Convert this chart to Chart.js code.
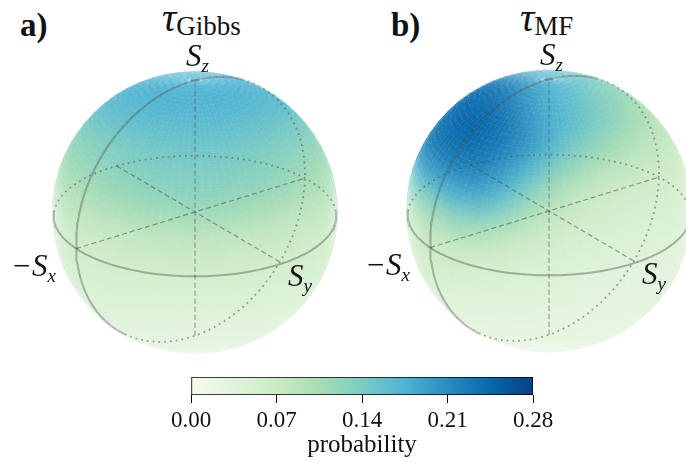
<!DOCTYPE html>
<html>
<head>
<meta charset="utf-8">
<script src="https://cdn.jsdelivr.net/npm/chart.js@4"></script>
<style>
html, body { margin: 0; padding: 0; background: #fff; }
#page { position: relative; width: 686px; height: 466px; overflow: hidden; font-family: "Liberation Serif", serif; color: #111; }
#page canvas { position: absolute; }
.disc { position: absolute; left: 0; top: 0; width: 686px; height: 466px; }
.disc canvas { filter: blur(10px); }
#discA { clip-path: ellipse(143px 141.5px at 195px 212.5px); }
#discB { clip-path: ellipse(143px 141.5px at 549px 211px); }
.lbl { position: absolute; white-space: nowrap; line-height: 1; }
.lbl i { font-size: 31px; }
.lbl sub { font-size: 19px; font-style: italic; vertical-align: baseline; position: relative; top: 6px; }
.head { font-weight: bold; font-size: 33px; }
.title i { font-size: 40px; }
.title span { font-size: 27px; position: relative; top: 4px; }
</style>
</head>
<body>
<div id="page">
  <div class="disc" id="discA"><canvas id="surfaceA" width="325" height="325" style="left:32.5px;top:50px"></canvas></div>
  <div class="disc" id="discB"><canvas id="surfaceB" width="325" height="325" style="left:386.5px;top:48.5px"></canvas></div>
  <canvas id="linesA" width="320" height="320" style="left:35px;top:52px"></canvas>
  <canvas id="linesB" width="320" height="320" style="left:389px;top:51px"></canvas>
  <canvas id="colorbar" width="686" height="96" style="left:0;top:370px"></canvas>

  <div class="lbl head" style="left:20px;top:9px">a)</div>
  <div class="lbl head" style="left:391px;top:9px">b)</div>
  <div class="lbl title" style="left:162px;top:-2px"><i>τ</i><span>Gibbs</span></div>
  <div class="lbl title" style="left:520px;top:-2px"><i>τ</i><span>MF</span></div>
  <div class="lbl" style="left:186px;top:40px"><i>S</i><sub>z</sub></div>
  <div class="lbl" style="left:540px;top:39px"><i>S</i><sub>z</sub></div>
  <div class="lbl" style="left:11px;top:250px"><i>−S</i><sub>x</sub></div>
  <div class="lbl" style="left:365px;top:249px"><i>−S</i><sub>x</sub></div>
  <div class="lbl" style="left:288px;top:260px"><i>S</i><sub>y</sub></div>
  <div class="lbl" style="left:642px;top:258px"><i>S</i><sub>y</sub></div>
</div>

<script>
// colorbar
const barTicks = [0, 0.07, 0.14, 0.21, 0.28];
const barRange = [0, 0.28];
const gnbu = ['#f7fcf0', '#e0f3db', '#ccebc5', '#a8ddb5', '#7bccc4', '#4eb3d3', '#2b8cbe', '#0868ac', '#084081'];

// probability, rows top to bottom, columns left to right
const probGibbs = [
    [.170, .170, .170, .172, .175, .175, .175, .175, .175, .172, .170, .170, .170],
    [.155, .160, .165, .168, .172, .175, .175, .175, .172, .168, .165, .160, .155],
    [.130, .140, .150, .158, .163, .165, .165, .165, .163, .158, .150, .140, .130],
    [.115, .125, .135, .142, .147, .150, .152, .150, .147, .142, .135, .125, .115],
    [.105, .115, .125, .132, .137, .140, .140, .140, .137, .132, .125, .115, .105],
    [.095, .105, .115, .122, .127, .130, .130, .130, .127, .122, .115, .105, .095],
    [.080, .085, .095, .105, .110, .113, .115, .113, .110, .105, .095, .085, .080],
    [.065, .070, .075, .080, .085, .088, .090, .088, .085, .080, .075, .070, .065],
    [.055, .060, .065, .068, .070, .072, .072, .072, .070, .068, .065, .060, .055],
    [.050, .050, .055, .055, .058, .058, .058, .058, .058, .055, .052, .050, .050],
    [.040, .040, .045, .045, .045, .045, .045, .045, .045, .045, .040, .040, .040],
    [.030, .030, .035, .035, .035, .035, .035, .035, .035, .035, .030, .030, .030],
    [.025, .025, .025, .030, .030, .030, .030, .030, .030, .030, .025, .025, .025]
];
const probMF = [
    [.200, .210, .220, .230, .220, .200, .175, .160, .140, .120, .100, .090, .080],
    [.210, .220, .235, .240, .225, .200, .175, .160, .140, .125, .105, .090, .080],
    [.210, .225, .245, .245, .232, .205, .180, .165, .145, .125, .105, .090, .080],
    [.200, .230, .240, .240, .225, .205, .178, .150, .130, .110, .095, .080, .070],
    [.170, .205, .222, .222, .205, .180, .150, .125, .105, .090, .080, .070, .065],
    [.130, .170, .190, .195, .175, .145, .115, .095, .080, .070, .065, .060, .055],
    [.090, .120, .145, .150, .135, .110, .090, .075, .065, .060, .055, .050, .050],
    [.070, .085, .100, .100, .090, .080, .070, .060, .055, .050, .045, .045, .040],
    [.060, .065, .070, .070, .065, .060, .055, .050, .045, .040, .040, .035, .035],
    [.050, .050, .055, .050, .050, .045, .045, .040, .035, .035, .030, .030, .030],
    [.040, .040, .040, .040, .040, .040, .035, .035, .030, .030, .030, .030, .030],
    [.030, .030, .030, .030, .030, .030, .030, .030, .025, .025, .025, .025, .025],
    [.025, .025, .025, .025, .025, .025, .025, .025, .025, .025, .025, .025, .025]
];

// view of the sphere
const elev = 25.2 * Math.PI / 180;
const camDist = 13.6;
const xRight = 0.81, yRight = 0.586;
// the xz circle is solid between these angles, dotted on the rest
const frontFrom = 65, frontTo = 232;
// spacing of the faint mesh on the surface, degrees
const meshLon = 3.6, meshLat = 2.4;

function hexToRgb(h) {
    return [parseInt(h.slice(1, 3), 16), parseInt(h.slice(3, 5), 16), parseInt(h.slice(5, 7), 16)];
}

function probColor(p) {
    const f = Math.min(Math.max(p / barRange[1], 0), 1) * (gnbu.length - 1);
    const i = Math.min(Math.floor(f), gnbu.length - 2);
    const a = hexToRgb(gnbu[i]), b = hexToRgb(gnbu[i + 1]);
    const c = a.map((v, k) => Math.round(v + (b[k] - v) * (f - i)));
    return 'rgb(' + c.join(',') + ')';
}

function viewOf(x, y, z) {
    const right = x * xRight + y * yRight;
    const front = -x * yRight + y * xRight;
    const up = z * Math.cos(elev) - front * Math.sin(elev);
    const depth = front * Math.cos(elev) + z * Math.sin(elev);
    return { right: right, up: up, depth: depth };
}

function project(x, y, z) {
    const v = viewOf(x, y, z);
    const s = camDist / (camDist - v.depth);
    return { x: v.right * s, y: v.up * s };
}

function arc(from, to, fn) {
    const pts = [];
    for (let a = from; a < to; a += 2) {
        const r = a * Math.PI / 180;
        pts.push(fn(Math.cos(r), Math.sin(r)));
    }
    const r = to * Math.PI / 180;
    pts.push(fn(Math.cos(r), Math.sin(r)));
    return pts;
}

// front side of the mesh, null where a line goes round the back
function meshPoint(lat, lon) {
    const la = lat * Math.PI / 180, lo = lon * Math.PI / 180;
    const x = Math.cos(la) * Math.cos(lo), y = Math.cos(la) * Math.sin(lo), z = Math.sin(la);
    if (viewOf(x, y, z).depth < 0.02) return { x: null, y: null };
    return project(x, y, z);
}

function meshLines() {
    const pts = [];
    for (let lat = -87.6; lat < 90; lat += meshLat) {
        for (let lon = 0; lon <= 360; lon += 3.6) pts.push(meshPoint(lat, lon));
        pts.push({ x: null, y: null });
    }
    for (let lon = 0; lon < 360; lon += meshLon) {
        for (let lat = -88; lat <= 88; lat += 2) pts.push(meshPoint(lat, lon));
        pts.push({ x: null, y: null });
    }
    return pts;
}

function surfaceChart(id, rows) {
    const cells = [];
    const colors = [];
    rows.forEach((row, r) => row.forEach((p, c) => {
        cells.push({ x: c, y: r });
        colors.push(probColor(p));
    }));
    new Chart(document.getElementById(id), {
        type: 'scatter',
        data: { datasets: [{
            data: cells,
            pointStyle: 'rect',
            pointRadius: 18.4,
            pointBorderWidth: 0,
            pointBackgroundColor: colors
        }] },
        options: {
            responsive: false,
            animation: false,
            events: [],
            layout: { padding: 0 },
            plugins: { legend: { display: false }, tooltip: { enabled: false } },
            scales: {
                x: { display: false, min: -0.5, max: 12.5 },
                y: { display: false, min: -0.5, max: 12.5, reverse: true }
            }
        }
    });
}

function linesChart(id) {
    const mesh = { borderColor: 'rgba(255,255,255,0.13)', borderWidth: 0.7, borderDash: [5, 2], pointRadius: 0 };
    const solid = { borderColor: 'rgba(70,80,75,0.42)', borderWidth: 2, pointRadius: 0 };
    const dotted = { borderColor: 'rgba(70,80,75,0.55)', borderWidth: 1.8, borderDash: [1.8, 4], pointRadius: 0 };
    const dashed = { borderColor: 'rgba(70,80,75,0.55)', borderWidth: 1.2, borderDash: [5, 3], pointRadius: 0 };
    const eq = (c, s) => project(c, s, 0);
    const xz = (c, s) => project(c, 0, s);
    // equator changes from front to back where it meets the limb
    const limb = Math.atan2(yRight, xRight) * 180 / Math.PI;
    const datasets = [
        Object.assign({ data: meshLines() }, mesh),
        Object.assign({ data: arc(limb, limb + 180, eq) }, solid),
        Object.assign({ data: arc(limb + 180, limb + 360, eq) }, dotted),
        Object.assign({ data: arc(frontFrom, frontTo, xz) }, solid),
        Object.assign({ data: arc(frontTo, frontFrom + 360, xz) }, dotted),
        Object.assign({ data: [project(-1, 0, 0), project(1, 0, 0)] }, dashed),
        Object.assign({ data: [project(0, -1, 0), project(0, 1, 0)] }, dashed),
        Object.assign({ data: [project(0, 0, -1), project(0, 0, 1)] }, dashed)
    ];
    datasets.forEach(d => { d.showLine = true; d.fill = false; d.tension = 0; d.spanGaps = false; });
    const span = 160 / 141;
    new Chart(document.getElementById(id), {
        type: 'scatter',
        data: { datasets: datasets },
        options: {
            responsive: false,
            animation: false,
            events: [],
            layout: { padding: 0 },
            plugins: { legend: { display: false }, tooltip: { enabled: false } },
            scales: {
                x: { display: false, min: -span, max: span },
                y: { display: false, min: -span, max: span }
            }
        }
    });
}

surfaceChart('surfaceA', probGibbs);
surfaceChart('surfaceB', probMF);
linesChart('linesA');
linesChart('linesB');

new Chart(document.getElementById('colorbar'), {
    type: 'bar',
    data: {
        labels: ['probability'],
        datasets: [{
            data: [barRange],
            barPercentage: 1,
            categoryPercentage: 1,
            borderColor: '#000',
            borderWidth: 1,
            borderSkipped: false,
            backgroundColor: function (ctx) {
                const area = ctx.chart.chartArea;
                if (!area) return gnbu[0];
                const g = ctx.chart.ctx.createLinearGradient(area.left, 0, area.right, 0);
                gnbu.forEach((c, i) => g.addColorStop(i / (gnbu.length - 1), c));
                return g;
            }
        }]
    },
    options: {
        indexAxis: 'y',
        responsive: false,
        animation: false,
        events: [],
        layout: { padding: { left: 191, right: 153, top: 7, bottom: 0 } },
        plugins: { legend: { display: false }, tooltip: { enabled: false } },
        scales: {
            y: { display: false },
            x: {
                min: barRange[0],
                max: barRange[1],
                afterBuildTicks: function (axis) { axis.ticks = barTicks.map(v => ({ value: v })); },
                afterFit: function (axis) { axis.height = 71; },
                grid: { drawOnChartArea: false, drawTicks: true, tickLength: 8, color: '#000', lineWidth: 1 },
                border: { display: false },
                ticks: {
                    maxRotation: 0,
                    autoSkip: false,
                    padding: 4,
                    color: '#111',
                    font: { family: 'Liberation Serif', size: 23 },
                    callback: v => v.toFixed(2)
                },
                title: {
                    display: true,
                    text: 'probability',
                    color: '#111',
                    padding: { top: 0, bottom: 6 },
                    font: { family: 'Liberation Serif', size: 25 }
                }
            }
        }
    }
});
</script>
</body>
</html>
